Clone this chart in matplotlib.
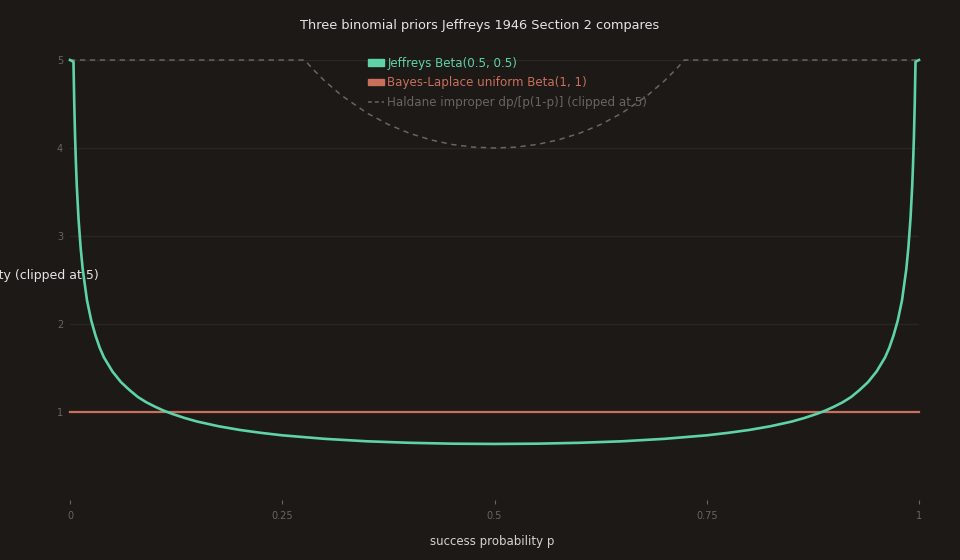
import matplotlib
matplotlib.use("Agg")
import matplotlib.pyplot as plt
from matplotlib.patches import Patch
from matplotlib.lines import Line2D

# densities (clipped at 5)
p_jeffreys = [0, 0.0041, 0.005, 0.006, 0.007, 0.008, 0.01, 0.0125, 0.015, 0.02,
              0.025, 0.03, 0.035, 0.04, 0.05, 0.06, 0.07, 0.08, 0.09, 0.1,
              0.11, 0.12, 0.135, 0.15, 0.175, 0.2, 0.225, 0.25, 0.3, 0.35, 0.4, 0.45, 0.5,
              0.55, 0.6, 0.65, 0.7, 0.75, 0.775, 0.8, 0.825, 0.85, 0.865, 0.88, 0.89, 0.9, 0.91,
              0.92, 0.93, 0.94, 0.95, 0.96, 0.965, 0.97, 0.975, 0.98, 0.985,
              0.9875, 0.99, 0.992, 0.993, 0.994, 0.995, 0.9959, 1]
d_jeffreys = [5.0, 4.98, 4.51, 4.12, 3.82, 3.57, 3.20, 2.87, 2.62, 2.27,
              2.04, 1.87, 1.73, 1.62, 1.46, 1.34, 1.25, 1.17, 1.11, 1.061,
              1.017, 0.980, 0.932, 0.891, 0.838, 0.796, 0.763, 0.735, 0.695, 0.667, 0.650, 0.640, 0.637,
              0.640, 0.650, 0.667, 0.695, 0.735, 0.763, 0.796, 0.838, 0.891, 0.932, 0.980, 1.017, 1.061, 1.11,
              1.17, 1.25, 1.34, 1.46, 1.62, 1.73, 1.87, 2.04, 2.27, 2.62,
              2.87, 3.20, 3.57, 3.82, 4.12, 4.51, 4.98, 5.0]

p_uniform = [0, 1]
d_uniform = [1, 1]

p_haldane = [0, 0.25, 0.2764, 0.285, 0.3, 0.32, 0.35, 0.375, 0.4, 0.425, 0.45,
             0.475, 0.5, 0.525, 0.55, 0.575, 0.6, 0.625, 0.65, 0.68, 0.7,
             0.715, 0.7236, 0.75, 1]
d_haldane = [5, 5, 5, 4.907, 4.762, 4.596, 4.396, 4.267, 4.167, 4.092, 4.040,
             4.010, 4.0, 4.010, 4.040, 4.092, 4.167, 4.267, 4.396, 4.596, 4.762,
             4.907, 5, 5, 5]

x_ticks = [0, 0.25, 0.5, 0.75, 1]
x_tick_labels = ["0", "0.25", "0.5", "0.75", "1"]
y_ticks = [1, 2, 3, 4, 5]

labels = ["Jeffreys Beta(0.5, 0.5)",
          "Bayes-Laplace uniform Beta(1, 1)",
          "Haldane improper dp/[p(1-p)] (clipped at 5)"]

bg = "#1c1917"
c_jeff = "#5fd3a8"
c_unif = "#c96f5b"
c_hald = "#6b6461"
c_tick = "#6b6561"

fig = plt.figure(figsize=(9.6, 5.6), dpi=100, facecolor=bg)
ax = fig.add_axes([70 / 960, 1 - 500 / 560, 849 / 960, 440 / 560])
ax.set_facecolor(bg)

ax.plot(p_haldane, d_haldane, color=c_hald, lw=1.1, ls=(0, (3.5, 3)), clip_on=False, zorder=2)
ax.plot(p_uniform, d_uniform, color=c_unif, lw=1.6, clip_on=False, zorder=3)
ax.plot(p_jeffreys, d_jeffreys, color=c_jeff, lw=1.9, clip_on=False, zorder=4)

ax.set_xlim(0, 1)
ax.set_ylim(0, 5)
ax.set_xticks(x_ticks)
ax.set_xticklabels(x_tick_labels)
ax.set_yticks(y_ticks)
ax.grid(axis="y", color="#2a2623", lw=1)
ax.set_axisbelow(True)
for s in ax.spines.values():
    s.set_visible(False)
ax.tick_params(axis="x", colors=c_tick, labelsize=7, length=3, width=0.8, pad=5)
ax.tick_params(axis="y", colors=c_tick, labelsize=7, length=0, pad=5)

fig.text(0.5, 1 - 25 / 560, "Three binomial priors Jeffreys 1946 Section 2 compares",
         ha="center", va="center", color="#e7e5e4", fontsize=9.3)
fig.text(492 / 960, 1 - 541 / 560, "success probability p",
         ha="center", va="center", color="#d6d3d1", fontsize=8.5)
fig.text(99 / 960, 1 - 275 / 560, "density (clipped at 5)",
         ha="right", va="center", color="#e7e5e4", fontsize=9.0)

handles = [Patch(color=c_jeff), Patch(color=c_unif),
           Line2D([], [], color=c_hald, lw=1.1, ls=(0, (2.5, 2)))]
leg = fig.legend(handles, labels, loc="upper left",
                 bbox_to_anchor=(357 / 960, 1 - 46 / 560), frameon=False,
                 fontsize=8.6, labelcolor=[c_jeff, c_unif, c_hald],
                 handlelength=1.35, handleheight=0.45, handletextpad=0.3,
                 labelspacing=0.55)

fig.savefig("out.png", dpi=100, facecolor=bg)
